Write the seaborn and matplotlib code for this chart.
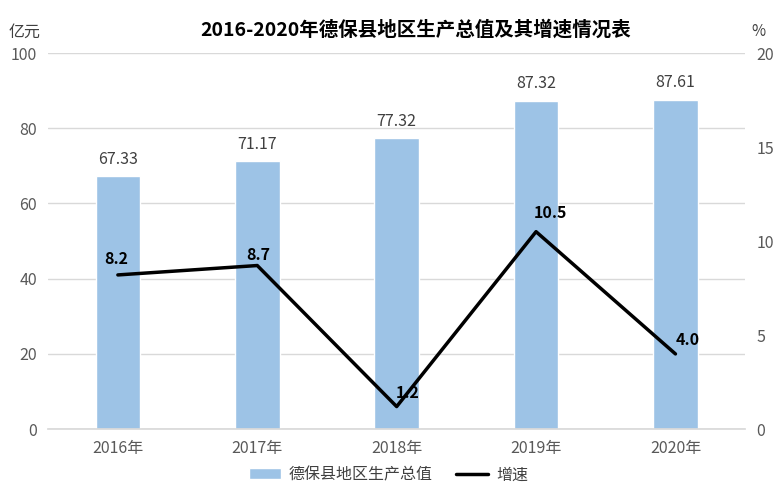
import numpy as np
import pandas as pd
import seaborn as sns
import matplotlib.pyplot as plt

years = ['2016年', '2017年', '2018年', '2019年', '2020年']
gdp = [67.33, 71.17, 77.32, 87.32, 87.61]
growth = [8.2, 8.7, 1.2, 10.5, 4.0]

df = pd.DataFrame({'year': years, 'gdp': gdp, 'growth': growth})

sns.set_theme(style='white')
plt.rcParams['font.family'] = ['Noto Sans CJK SC', 'DejaVu Sans']
plt.rcParams['axes.unicode_minus'] = False

fig = plt.figure(figsize=(7.77, 4.91), dpi=100)
ax = fig.add_axes([0.062, 0.126, 0.897, 0.766])

sns.barplot(data=df, x='year', y='gdp', color='#9DC3E6', saturation=1,
            width=0.32, ax=ax, label='德保县地区生产总值', legend=False)
ax.set_ylim(0, 100)
ax.set_yticks(range(0, 101, 20))
ax.yaxis.grid(True, color='#D9D9D9', lw=1)
ax.set_axisbelow(True)
for i, v in enumerate(gdp):
    ax.annotate(f'{v:.2f}', (i, v), xytext=(0, 6), textcoords='offset points',
                ha='center', va='bottom', fontsize=11.5, color='#404040')

ax2 = ax.twinx()
sns.pointplot(data=df, x='year', y='growth', color='black', markers='',
              linestyles='-', linewidth=2.5, ax=ax2, label='增速')
if ax2.get_legend() is not None:
    ax2.get_legend().remove()
ax2.set_ylim(0, 20)
ax2.set_yticks(range(0, 21, 5))
offsets = [(-1, 6), (1, 2), (8, 4), (10, 8), (9, 4)]
for i, v in enumerate(growth):
    ax2.annotate(f'{v:.1f}', (i, v), xytext=offsets[i], textcoords='offset points',
                 ha='center', va='bottom', fontsize=11.5, fontweight='bold', color='black')

ax.set_xlim(-0.5, 4.5)
for a in (ax, ax2):
    a.set_xlabel('')
    a.set_ylabel('')
    for s in ('top', 'left', 'right'):
        a.spines[s].set_visible(False)
    a.spines['bottom'].set_color('#D9D9D9')
    a.tick_params(length=0, labelsize=11.5, labelcolor='#595959', pad=8)
ax2.spines['bottom'].set_visible(False)

fig.text(0.535, 0.94, '2016-2020年德保县地区生产总值及其增速情况表', ha='center', va='center',
         fontsize=14, fontweight='bold', color='black')
fig.text(0.032, 0.935, '亿元', ha='center', va='center', fontsize=11.5, color='#404040')
fig.text(0.976, 0.935, '%', ha='center', va='center', fontsize=11, color='#404040')

h1, l1 = ax.get_legend_handles_labels()
h2, l2 = ax2.get_legend_handles_labels()
fig.legend(h1 + h2, l1 + l2, loc='center', bbox_to_anchor=(0.5, 0.033), ncol=2,
           frameon=False, fontsize=11.5, handlelength=2.0, columnspacing=1.5,
           handletextpad=0.5, labelcolor='#404040')

fig.savefig('out.png', dpi=100)
